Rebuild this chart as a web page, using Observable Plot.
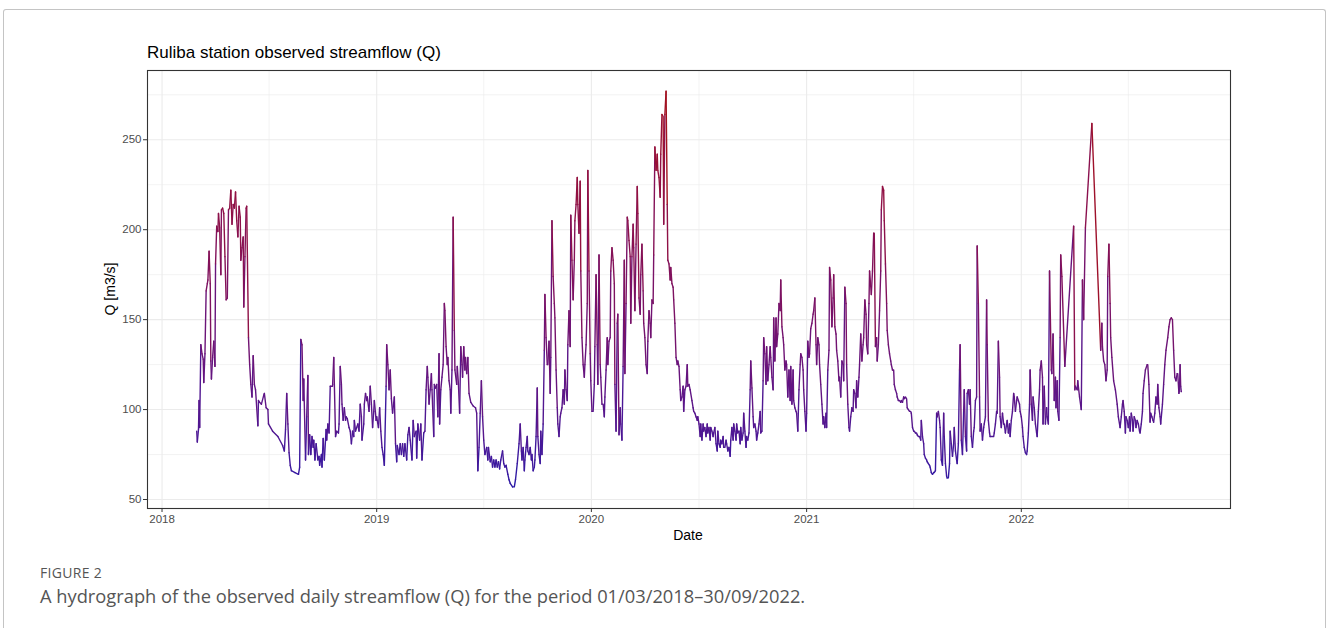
<!DOCTYPE html>
<html>
<head>
<meta charset="utf-8">
<script src="https://cdn.jsdelivr.net/npm/d3@7"></script>
<script src="https://cdn.jsdelivr.net/npm/@observablehq/plot@0.6"></script>
<style>
  html, body { margin: 0; padding: 0; background: #fff; }
  #fig { position: relative; width: 1328px; height: 628px; overflow: hidden; font-family: "Liberation Sans", Arial, sans-serif; }
  #frame { position: absolute; left: 3px; top: 9px; width: 1321px; height: 660px; border: 1.5px solid #c4c4c4; border-bottom: none; border-radius: 3px 3px 0 0; }
  #chart { position: absolute; left: 0; top: 0; }
  #title { position: absolute; left: 147px; top: 43px; font-size: 17px; line-height: 20px; color: #000; white-space: nowrap; }
  #ylab { position: absolute; left: 110px; top: 289px; transform: translate(-50%, -50%) rotate(-90deg); font-size: 14px; line-height: 16px; color: #000; white-space: nowrap; }
  #xlab { position: absolute; left: 688px; top: 535px; transform: translate(-50%, -50%); font-size: 14px; line-height: 16px; color: #000; white-space: nowrap; }
  #figlabel { position: absolute; left: 40px; top: 564px; font-family: "Open Sans", sans-serif; font-size: 14px; line-height: 18px; color: #555; letter-spacing: 0.3px; }
  #caption { position: absolute; left: 40px; top: 584px; font-family: "Open Sans", sans-serif; font-size: 18.3px; line-height: 24px; color: #555; white-space: nowrap; }
  #chart svg g[aria-label="x-axis tick label"], #chart svg g[aria-label="y-axis tick label"] { fill: #4d4d4d; }
  #chart svg g[aria-label="x-axis tick"], #chart svg g[aria-label="y-axis tick"] { stroke: #333; }
</style>
</head>
<body>
<div id="fig">
  <div id="frame"></div>
  <div id="chart"></div>
  <div id="title">Ruliba station observed streamflow (Q)</div>
  <div id="ylab">Q [m3/s]</div>
  <div id="xlab">Date</div>
  <div id="figlabel">FIGURE 2</div>
  <div id="caption">A hydrograph of the observed daily streamflow (Q) for the period 01/03/2018–30/09/2022.</div>
</div>
<script>
// Days counted from 2018-01-01, and observed Q [m3/s]
const days2018 = [59,60,62,63,64,66,68,70,71,73,75,77,78,80,82,83,84,86,88,90,91,93,95,96,98,100,101,103,105,107,109,111,113,115,117,119,121,123,125,127,129,131,133,134,136,138,139,141,143,144,147,149,151,153,155,157,159,163,164,166,169,173,174,177,180,181,188,197,205,208,210,212,214,216,218,220,226,232,234,236,238,240,241,244,246,248,249,251,253,255,257,258,260,262,265,267,268,271,272,274,276,279,280,282,284,286,288,290,292,293,295,297,300,301,303,305,306,308,310,312,313,315,318,320,322,324,326,327,329,331,333,335,337,339,340,343,344,346,348,349,352,354,356,358,360,361,364];
const q2018 = [88,82,89,105,90,136,131,128,115,131,166,170,172,188,170,127,117,129,138,124,181,202,199,209,201,175,211,212,209,185,161,162,211,212,222,203,214,212,221,205,196,213,207,183,190,196,157,185,212,213,140,125,114,107,130,114,111,91,105,104,103,108,109,101,100,92,88,85,80,77,89,109,92,76,69,66,65,64,68,139,136,105,117,72,96,119,75,86,75,85,79,83,72,81,72,74,69,75,68,84,72,89,83,92,87,113,113,113,129,114,85,88,87,92,124,114,103,94,101,94,96,95,90,88,81,88,85,94,88,90,92,88,103,96,83,92,103,109,105,107,99,113,103,90,99,105,94];

const days2019 = [365,368,370,372,374,376,378,381,382,384,386,388,390,392,395,397,399,400,403,405,407,409,411,413,416,418,420,422,425,427,429,432,433,435,438,440,442,445,447,449,451,452,454,456,458,459,462,463,465,467,469,471,472,474,476,478,480,481,483,485,486,488,490,491,493,495,497,498,501,502,504,506,508,510,511,513,515,516,518,520,522,525,529,533,535,537,539,541,543,545,547,549,552,554,555,558,560,562,564,566,568,570,572,574,576,579,581,583,585,588,590,592,596,599,601,604,607,609,611,612,614,616,617,619,621,622,624,626,628,629,631,633,634,636,638,639,641,643,644,646,648,650,651,653,655,656,658,660,661,663,665,667,668,670,672,673,675,677,678,680,682,684,685,687,689,690,692,694,695,697,699,701,702,704,706,707,709,711,712,714,716,718,719,721,723,724,726,728,729];
const q2019 = [96,90,101,88,79,75,69,113,136,125,111,122,106,98,107,81,71,80,75,81,75,81,74,81,72,86,90,83,72,94,85,88,73,92,83,92,72,87,88,111,124,118,103,111,120,111,85,114,112,114,96,131,92,111,118,125,159,155,135,125,129,116,111,98,122,207,144,122,114,124,114,98,135,125,118,135,122,129,120,129,109,104,102,101,98,66,79,98,116,96,83,75,79,72,79,71,74,68,72,68,72,68,71,67,72,77,70,68,69,64,61,59,57,57,61,70,81,92,77,72,79,66,72,79,85,77,75,79,72,75,66,68,72,85,112,85,75,70,88,75,92,133,164,140,125,125,138,109,129,205,174,159,151,122,101,92,85,96,98,101,111,103,122,111,105,136,155,135,208,183,161,183,205,214,229,214,198,227,177,140,125,118,125,136,159,233,177,131,116];

const days2020 = [731,733,735,736,738,740,741,743,745,746,748,750,752,753,755,757,758,760,762,763,765,767,769,770,772,774,775,777,779,780,782,784,786,787,789,791,792,794,796,797,799,801,802,804,806,808,809,811,813,814,816,818,819,821,823,825,826,828,830,831,833,835,836,838,840,842,843,845,847,848,850,852,853,855,857,859,860,862,864,865,867,869,870,872,874,876,877,879,881,882,884,886,887,889,891,893,894,896,898,901,903,904,906,908,910,911,913,915,916,918,920,921,923,925,927,928,930,932,933,935,937,938,940,942,944,945,947,949,950,952,954,955,957,959,960,962,964,966,967,969,971,972,974,976,977,979,981,983,984,986,988,989,991,993,994,996,998,1000,1001,1003,1005,1006,1008,1010,1011,1013,1015,1017,1018,1020,1022,1023,1025,1027,1028,1030,1032,1034,1035,1037,1039,1040,1042,1044,1045,1047,1049,1051,1052,1054,1056,1057,1059,1061,1062,1064,1066,1068,1069,1071,1073,1074,1076,1078,1079,1081,1083,1085,1086,1088,1090,1091,1093,1095];
const q2020 = [99,99,114,135,175,136,114,186,125,118,103,103,96,107,122,140,125,138,140,177,190,183,170,114,88,148,153,86,101,92,83,124,183,120,159,207,205,194,185,148,185,203,190,155,192,224,209,162,153,175,192,166,148,140,125,120,138,155,148,140,161,159,186,246,233,242,233,229,218,242,264,263,203,264,277,214,183,181,172,179,170,168,161,148,129,125,127,124,111,105,107,113,99,111,113,125,113,114,111,105,101,99,98,96,94,96,92,85,92,83,92,88,90,85,92,87,90,83,90,88,85,87,90,81,77,88,81,79,83,81,85,79,79,83,81,77,79,74,83,90,83,92,88,83,92,87,88,81,90,83,87,98,88,79,85,83,87,111,127,112,96,90,92,88,83,87,92,99,87,88,116,140,131,114,135,116,125,135,129,118,111,151,127,151,135,142,159,155,172,146,140,136,122,127,125,107,122,105,124,103,122,105,101,99,98,88,111,125,131,129,122,111,99,88];

const days2021 = [1096,1098,1100,1101,1103,1105,1107,1108,1110,1112,1113,1115,1117,1118,1120,1122,1124,1125,1127,1129,1130,1132,1134,1135,1137,1139,1141,1142,1144,1146,1147,1149,1151,1152,1154,1156,1158,1159,1161,1163,1164,1166,1168,1169,1171,1173,1175,1176,1178,1180,1181,1183,1185,1186,1188,1190,1192,1193,1195,1197,1198,1200,1202,1203,1206,1208,1210,1211,1213,1215,1216,1218,1220,1222,1223,1225,1227,1228,1230,1232,1233,1235,1237,1239,1240,1242,1244,1245,1247,1249,1250,1252,1254,1256,1257,1259,1261,1262,1264,1266,1267,1269,1271,1273,1274,1276,1278,1279,1281,1283,1284,1286,1288,1290,1291,1293,1295,1296,1298,1300,1301,1303,1305,1306,1308,1310,1312,1313,1315,1317,1318,1320,1322,1323,1325,1327,1329,1330,1332,1334,1335,1337,1339,1340,1342,1344,1346,1347,1349,1351,1352,1354,1356,1357,1359,1361,1363,1364,1366,1368,1369,1371,1373,1374,1376,1378,1380,1381,1383,1385,1386,1388,1390,1391,1393,1395,1397,1398,1400,1402,1403,1405,1407,1408,1410,1412,1414,1415,1417,1419,1420,1422,1424,1425,1427,1429,1431,1432,1434,1436,1437,1439,1441,1442,1444,1446,1448,1449,1451,1453,1454,1456,1458,1459];
const q2021 = [98,138,129,131,145,148,153,155,162,136,125,140,136,125,114,103,92,96,90,98,90,122,133,179,172,146,162,175,146,142,133,127,116,118,107,127,125,116,168,159,125,103,90,88,96,101,99,111,109,101,116,107,118,125,142,127,136,140,161,153,136,131,159,177,164,177,198,198,135,140,127,136,155,177,211,224,222,205,181,159,144,136,131,127,125,122,122,114,111,109,107,105,105,104,105,104,107,106,107,106,101,100,99,99,98,90,88,88,87,87,86,85,85,83,94,85,81,75,73,72,71,70,69,68,65,64,65,65,66,98,96,99,94,90,72,69,98,85,70,63,62,62,70,88,81,74,81,90,77,72,70,81,122,136,83,75,99,111,85,77,109,111,103,111,85,79,88,90,105,107,191,159,107,88,92,83,90,92,96,161,136,94,87,85,85,85,85,87,92,99,98,138,118,96,90,98,92,92,87,92,94,87,92,85,94,99,109,107,99,105,107,105,103,99];

const days2022 = [1461,1463,1464,1466,1468,1470,1471,1473,1475,1476,1478,1480,1481,1483,1485,1487,1488,1490,1492,1493,1495,1497,1498,1500,1502,1504,1505,1507,1509,1512,1513,1515,1517,1519,1520,1522,1523,1525,1527,1528,1530,1535,1550,1552,1553,1556,1557,1560,1563,1565,1567,1570,1581,1596,1598,1599,1601,1603,1605,1607,1608,1610,1612,1613,1615,1618,1621,1624,1626,1629,1631,1633,1634,1636,1638,1639,1641,1643,1645,1646,1648,1650,1651,1653,1655,1656,1658,1660,1662,1663,1665,1667,1668,1670,1672,1675,1676,1678,1680,1681,1683,1685,1686,1688,1690,1692,1693,1695,1697,1698,1701,1703,1705,1707,1710,1712,1714,1716,1718,1720,1722,1724,1726,1727,1729,1730,1731,1732,1733];
const q2022 = [96,90,85,79,76,75,77,87,103,122,103,94,107,101,92,87,85,99,111,122,127,118,92,113,92,101,96,92,177,122,120,142,105,118,101,116,99,94,140,186,174,124,202,111,113,111,116,107,100,172,150,201,259,133,148,135,127,125,116,122,174,192,159,140,129,116,111,103,96,90,96,103,105,99,87,96,94,90,96,88,98,94,88,96,94,90,94,92,88,87,92,99,109,116,122,125,125,114,93,98,96,94,93,98,107,103,114,101,96,92,103,114,125,133,140,146,150,151,150,133,118,116,120,120,109,111,125,113,110];

// Axis breaks
const yMajor = [50, 100, 150, 200, 250];
const yMinor = [75, 125, 175, 225, 275];
const xMajorYears = [2018, 2019, 2020, 2021, 2022];
const xMinorDates = ["2018-07-02", "2019-07-02", "2020-07-02", "2021-07-02", "2022-07-02"];
const yDomain = [45, 288.5];

const DAY = 864e5;
const base = Date.UTC(2018, 0, 1);
const data = [];
const pairs = [[days2018, q2018], [days2019, q2019], [days2020, q2020], [days2021, q2021], [days2022, q2022]];
let bad = false;
for (const [ds, qs] of pairs) {
  if (ds.length !== qs.length) bad = true;
  const n = Math.min(ds.length, qs.length);
  for (let i = 0; i < n; i++) data.push({date: new Date(base + ds[i] * DAY), q: qs[i]});
}
const dMin = d3.min(data, d => d.date), dMax = d3.max(data, d => d.date);
const span = dMax - dMin;
const xDomain = [new Date(+dMin - 0.05 * span), new Date(+dMax + 0.05 * span)];
const qExt = d3.extent(data, d => d.q);
const xMajor = xMajorYears.map(y => new Date(Date.UTC(y, 0, 1)));
const xMinor = xMinorDates.map(s => new Date(s + "T00:00:00Z"));

const chart = Plot.plot({
  width: 1328,
  height: 550,
  marginLeft: 147,
  marginRight: 98,
  marginTop: 70,
  marginBottom: 42,
  style: {fontFamily: "'Liberation Sans', Arial, sans-serif", fontSize: "11.5px", background: "transparent", overflow: "visible"},
  x: {type: "utc", domain: xDomain},
  y: {domain: yDomain},
  color: {type: "linear", domain: qExt, range: ["#2a1aa6", "#a3121f"], interpolate: "lab"},
  marks: [
    Plot.ruleX(xMinor, {stroke: "#ebebeb", strokeWidth: 0.6}),
    Plot.ruleY(yMinor, {stroke: "#ebebeb", strokeWidth: 0.6}),
    Plot.ruleX(xMajor, {stroke: "#ebebeb", strokeWidth: 1.1}),
    Plot.ruleY(yMajor, {stroke: "#ebebeb", strokeWidth: 1.1}),
    Plot.line(data, {x: "date", y: "q", stroke: "q", z: null, strokeWidth: 1.4}),
    Plot.frame({stroke: "#333", strokeWidth: 1.1}),
    Plot.axisX({ticks: xMajor, tickFormat: d => String(d.getUTCFullYear()), tickSize: 4, tickPadding: 2, fontSize: 11.5, label: null}),
    Plot.axisY({ticks: yMajor, tickSize: 4, tickPadding: 2, fontSize: 11.5, label: null}),
    ...(bad ? [Plot.text(["LENGTH MISMATCH"], {frameAnchor: "top", dy: 20, fill: "red", fontSize: 20})] : [])
  ]
});
document.getElementById("chart").appendChild(chart);
</script>
</body>
</html>
